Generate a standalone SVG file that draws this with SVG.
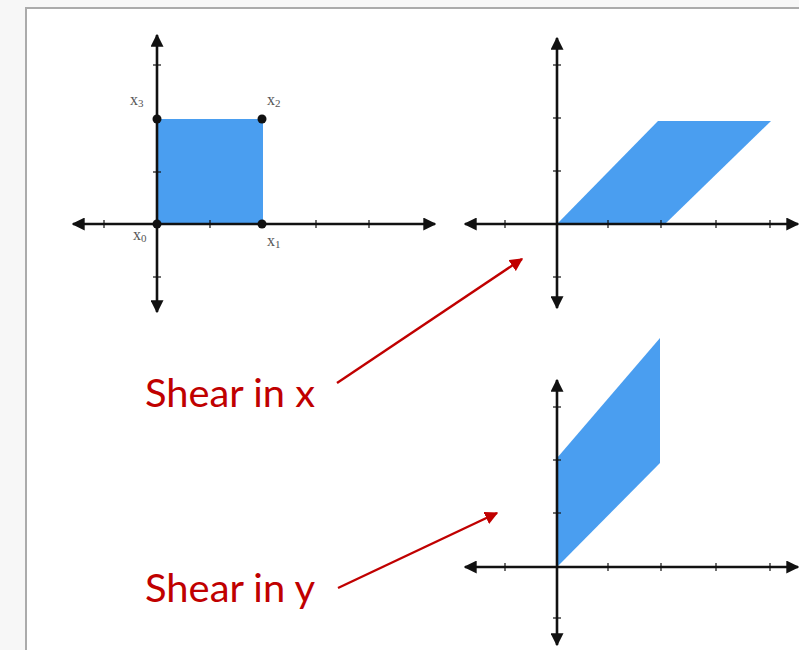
<svg xmlns="http://www.w3.org/2000/svg" width="799" height="650" viewBox="0 0 799 650">
<defs>
<style>
.axis{stroke:#111;stroke-width:2.6;fill:none}
.tick{stroke:#111;stroke-width:1.2}
.shape{fill:#4a9ef0}
.lbl{font-family:"Liberation Serif","DejaVu Serif",serif;font-size:16px;fill:#555}
.sub{font-size:11px}
.cap{font-family:Lato,"Open Sans",sans-serif;font-size:38px;fill:#c00000}
.red{stroke:#c00000;stroke-width:2.4;fill:none}
</style>
<marker id="ah" viewBox="0 0 10 10" refX="9" refY="5" markerWidth="5" markerHeight="5" orient="auto-start-reverse" markerUnits="strokeWidth">
<path d="M0,0 L10,5 L0,10 z" fill="#111"/>
</marker>
<marker id="rh" viewBox="0 0 10 10" refX="9" refY="5" markerWidth="5.5" markerHeight="5.5" orient="auto" markerUnits="strokeWidth">
<path d="M0,0 L10,5 L0,10 z" fill="#c00000"/>
</marker>
</defs>
<rect x="0" y="0" width="799" height="650" fill="#f7f7f7"/>
<rect x="26" y="8" width="790" height="660" fill="#ffffff" stroke="#ababab" stroke-width="2"/>

<g id="original">
<rect class="shape" x="157" y="119" width="106" height="105"/>
<line class="axis" x1="73" y1="224" x2="435" y2="224" marker-start="url(#ah)" marker-end="url(#ah)"/>
<line class="axis" x1="157" y1="35" x2="157" y2="312" marker-start="url(#ah)" marker-end="url(#ah)"/>
<g class="tick">
<line x1="104" y1="220" x2="104" y2="228"/><line x1="210" y1="220" x2="210" y2="228"/><line x1="263" y1="220" x2="263" y2="228"/><line x1="316" y1="220" x2="316" y2="228"/><line x1="369" y1="220" x2="369" y2="228"/>
<line x1="153" y1="65" x2="161" y2="65"/><line x1="153" y1="119" x2="161" y2="119"/><line x1="153" y1="172" x2="161" y2="172"/><line x1="153" y1="277" x2="161" y2="277"/>
</g>
<g fill="#111">
<circle cx="157" cy="224" r="4.5"/><circle cx="262" cy="224" r="4.5"/><circle cx="262" cy="119" r="4.5"/><circle cx="157" cy="119" r="4.5"/>
</g>
<text class="lbl" x="130" y="105">x<tspan class="sub" dy="2">3</tspan></text>
<text class="lbl" x="267" y="105">x<tspan class="sub" dy="2">2</tspan></text>
<text class="lbl" x="133" y="240">x<tspan class="sub" dy="2">0</tspan></text>
<text class="lbl" x="267" y="246">x<tspan class="sub" dy="2">1</tspan></text>
</g>

<g id="shear-x">
<polygon class="shape" points="557,224 665,224 771,121 658,121"/>
<line class="axis" x1="465" y1="224" x2="798" y2="224" marker-start="url(#ah)" marker-end="url(#ah)"/>
<line class="axis" x1="557" y1="38" x2="557" y2="308" marker-start="url(#ah)" marker-end="url(#ah)"/>
<g class="tick">
<line x1="505" y1="220" x2="505" y2="228"/><line x1="608" y1="220" x2="608" y2="228"/><line x1="661" y1="220" x2="661" y2="228"/><line x1="716" y1="220" x2="716" y2="228"/><line x1="770" y1="220" x2="770" y2="228"/>
<line x1="553" y1="65" x2="561" y2="65"/><line x1="553" y1="118" x2="561" y2="118"/><line x1="553" y1="171" x2="561" y2="171"/><line x1="553" y1="277" x2="561" y2="277"/>
</g>
</g>

<g id="shear-y">
<polygon class="shape" points="557,567 557,458 660,338 660,463"/>
<line class="axis" x1="465" y1="567" x2="798" y2="567" marker-start="url(#ah)" marker-end="url(#ah)"/>
<line class="axis" x1="557" y1="380" x2="557" y2="645" marker-start="url(#ah)" marker-end="url(#ah)"/>
<g class="tick">
<line x1="505" y1="563" x2="505" y2="571"/><line x1="608" y1="563" x2="608" y2="571"/><line x1="661" y1="563" x2="661" y2="571"/><line x1="716" y1="563" x2="716" y2="571"/><line x1="770" y1="563" x2="770" y2="571"/>
<line x1="553" y1="407" x2="561" y2="407"/><line x1="553" y1="460" x2="561" y2="460"/><line x1="553" y1="513" x2="561" y2="513"/><line x1="553" y1="618" x2="561" y2="618"/>
</g>
</g>

<g id="label-x">
<text class="cap" x="145" y="407" textLength="170" lengthAdjust="spacingAndGlyphs">Shear in x</text>
</g>
<g id="label-y">
<text class="cap" x="145" y="602" textLength="170" lengthAdjust="spacingAndGlyphs">Shear in y</text>
</g>

<g id="connectors">
<line class="red" x1="337" y1="383" x2="522" y2="259" marker-end="url(#rh)"/>
<line class="red" x1="338" y1="588" x2="497" y2="513" marker-end="url(#rh)"/>
</g>
</svg>
